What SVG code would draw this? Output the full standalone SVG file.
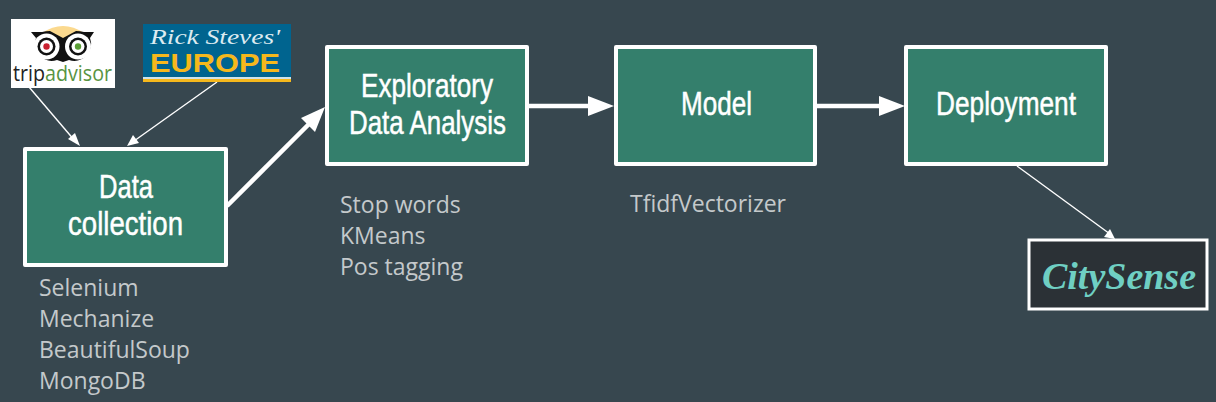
<svg xmlns="http://www.w3.org/2000/svg" width="1216" height="402" viewBox="0 0 1216 402">
<style>
.box{fill:#347f6c;stroke:#fff;stroke-width:4;stroke-linejoin:round}
.t{font-family:"Liberation Sans",Roboto,sans-serif;font-size:34px;fill:#fff;stroke:#fff;stroke-width:.5}
.s{font-family:"Open Sans","Noto Sans",sans-serif;font-size:23px;fill:#c4c9cb}
.thin{stroke:#fff;stroke-width:1.4;fill:none}
.thick{stroke:#fff;stroke-width:4.5;fill:none}
.head{fill:#fff}
</style>
<rect width="1216" height="402" fill="#37474f"/>
<g id="connectors">
<path class="thin" d="M29 87L75 141"/><path class="head" d="M80 146L68 139L75 133Z"/>
<path class="thin" d="M217 82L134 141"/><path class="head" d="M127 146L133 135L139 143Z"/>
<path class="thin" d="M1017 166L1110 234"/><path class="head" d="M1115 239L1104 237L1110 229Z"/>
<path class="thick" d="M227 206L312 121"/><path class="head" d="M325 107L315 132L301 118Z"/>
<path class="thick" d="M529 106H590"/><path class="head" d="M614 106L588 116V96Z"/>
<path class="thick" d="M817 106H880"/><path class="head" d="M905 106L879 116V96Z"/>
</g>
<g id="tripadvisor">
<rect x="11" y="19" width="104" height="69" fill="#fff"/>
<path d="M42 33Q63 19 84 33L63 50Z" fill="#fbd98e"/>
<path d="M31 32H42Q46 31 50 31L63 38L76 31Q80 31 84 32H94L90 38A17 17 0 0 1 69 60L63 62L57 60A17 17 0 0 1 36 38Z" fill="#111"/>
<circle cx="46.500" cy="46.500" r="13" fill="#fff"/><circle cx="46.500" cy="46.500" r="9" fill="#111"/><circle cx="46.500" cy="46.500" r="6.500" fill="#fff"/><circle cx="46.500" cy="46.500" r="3.200" fill="#c8202f"/>
<circle cx="78" cy="46.500" r="13" fill="#fff"/><circle cx="78" cy="46.500" r="9" fill="#111"/><circle cx="78" cy="46.500" r="6.500" fill="#fff"/><circle cx="78" cy="46.500" r="3.200" fill="#5a9e35"/>
<text x="13" y="81" font-family="'Open Sans',sans-serif" font-size="21" textLength="99" lengthAdjust="spacingAndGlyphs"><tspan fill="#222">trip</tspan><tspan fill="#589442">advisor</tspan></text>
</g>
<g id="rick-steves">
<rect x="143" y="24" width="148" height="58" fill="#00648f"/>
<rect x="143" y="77" width="148" height="2" fill="#cfe3ea"/><rect x="143" y="79" width="148" height="3" fill="#f6b81c"/>
<text x="150" y="44" font-family="'Liberation Serif',serif" font-style="italic" font-size="20" fill="#dcebf1" textLength="130" lengthAdjust="spacingAndGlyphs">Rick Steves'</text>
<text x="150" y="72" font-family="'Liberation Sans',sans-serif" font-weight="bold" font-size="26" fill="#f6b81c" textLength="130" lengthAdjust="spacingAndGlyphs">EUROPE</text>
</g>
<g id="data-collection">
<rect class="box" x="25" y="149" width="201" height="116"/>
<text class="t" x="99" y="198" textLength="54" lengthAdjust="spacingAndGlyphs">Data</text>
<text class="t" x="68" y="235" textLength="115" lengthAdjust="spacingAndGlyphs">collection</text>
</g>
<g id="eda">
<rect class="box" x="327" y="47" width="200" height="117"/>
<text class="t" x="361" y="97" textLength="132" lengthAdjust="spacingAndGlyphs">Exploratory</text>
<text class="t" x="349" y="134" textLength="157" lengthAdjust="spacingAndGlyphs">Data Analysis</text>
</g>
<g id="model">
<rect class="box" x="616" y="47" width="199" height="117"/>
<text class="t" x="681" y="115" textLength="71" lengthAdjust="spacingAndGlyphs">Model</text>
</g>
<g id="deployment">
<rect class="box" x="906" y="47" width="200" height="117"/>
<text class="t" x="936" y="115" textLength="140" lengthAdjust="spacingAndGlyphs">Deployment</text>
</g>
<g id="citysense">
<rect x="1029" y="240" width="178" height="69" fill="#2b3136" stroke="#fff" stroke-width="3"/>
<text x="1042" y="289" font-family="'Liberation Serif',serif" font-weight="bold" font-style="italic" font-size="38" fill="#6fcfc3" textLength="154" lengthAdjust="spacingAndGlyphs">CitySense</text>
</g>
<g id="notes">
<text class="s" x="39" y="296">Selenium</text>
<text class="s" x="39" y="327">Mechanize</text>
<text class="s" x="39" y="358">BeautifulSoup</text>
<text class="s" x="39" y="389">MongoDB</text>
<text class="s" x="340" y="213">Stop words</text>
<text class="s" x="340" y="244">KMeans</text>
<text class="s" x="340" y="275">Pos tagging</text>
<text class="s" x="630" y="212">TfidfVectorizer</text>
</g>
</svg>
